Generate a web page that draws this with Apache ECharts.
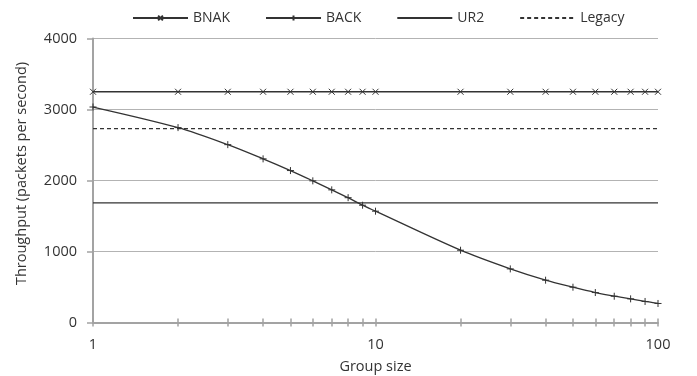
<!DOCTYPE html>
<html>
<head>
<meta charset="utf-8">
<script src="https://cdn.jsdelivr.net/npm/echarts@6/dist/echarts.min.js"></script>
<style>
  html, body { margin: 0; padding: 0; background: #fff; }
  #chart { width: 697px; height: 376px; }
</style>
</head>
<body>
<div id="chart"></div>
<script>
// Group sizes at which throughput was measured
const groupSizes = [1, 2, 3, 4, 5, 6, 7, 8, 9, 10, 20, 30, 40, 50, 60, 70, 80, 90, 100];
// Throughput (packets per second) per protocol
const bnakValues = [3250, 3250, 3250, 3250, 3250, 3250, 3250, 3250, 3250, 3250,
                    3250, 3250, 3250, 3250, 3250, 3250, 3250, 3250, 3250];
const backValues = [3035, 2745, 2505, 2305, 2140, 1995, 1868, 1758, 1652, 1568,
                    1018, 755, 596, 497, 422, 370, 333, 296, 268];
const ur2Value = 1685;
const legacyValue = 2730;
const xRange = [1, 100];
const yTicks = [0, 1000, 2000, 3000, 4000];

const ink = '#333';
const axisGray = '#a3a3a3';
const font = 'Open Sans';

const crossSymbol = 'path://M0,0L10,10M10,0L0,10';
const plusSymbol = 'path://M5,0L5,10M0,5L10,5';

const pairs = (vals) => groupSizes.map((g, i) => [g, vals[i]]);
const flat = (v) => xRange.map((x) => [x, v]);

const chart = echarts.init(document.getElementById('chart'), null, { renderer: 'canvas' });

const baseX = {
  type: 'log',
  logBase: 10,
  min: xRange[0],
  max: xRange[1],
  gridIndex: 0,
  position: 'bottom',
  splitLine: { show: false }
};

chart.setOption({
  animation: false,
  textStyle: { fontFamily: font },
  grid: { left: 93, right: 39, top: 38.5, bottom: 53.5, outerBoundsMode: 'none', containLabel: false },
  legend: {
    left: 127,
    top: 6,
    itemWidth: 55,
    itemHeight: 6,
    itemGap: 35,
    textStyle: { fontFamily: font, fontSize: 14, color: ink },
    data: [
      { name: 'BNAK' },
      { name: 'BACK' },
      { name: 'UR2', itemStyle: { opacity: 0 } },
      { name: 'Legacy', itemStyle: { opacity: 0 } }
    ]
  },
  xAxis: [
    Object.assign({}, baseX, {
      name: 'Group size',
      nameLocation: 'middle',
      nameGap: 37,
      nameTextStyle: { fontFamily: font, fontSize: 14.5, color: ink },
      axisLine: { show: true, lineStyle: { color: axisGray, width: 2 } },
      axisTick: { show: true, length: 4, inside: false, customValues: groupSizes, lineStyle: { color: axisGray, width: 1.5 } },
      axisLabel: { fontFamily: font, fontSize: 14.5, color: ink, margin: 15 }
    }),
    Object.assign({}, baseX, {
      axisLine: { show: false },
      axisTick: { show: true, length: 4, inside: true, customValues: groupSizes, lineStyle: { color: axisGray, width: 1.5 } },
      axisLabel: { show: false }
    })
  ],
  yAxis: {
    type: 'value',
    min: yTicks[0],
    max: yTicks[yTicks.length - 1],
    interval: 1000,
    name: 'Throughput (packets per second)',
    nameLocation: 'middle',
    nameGap: 64,
    nameTextStyle: { fontFamily: font, fontSize: 14.5, color: ink, padding: [0, 0, 0, 14] },
    axisLine: { show: true, lineStyle: { color: axisGray, width: 2 } },
    axisTick: { show: true, length: 6, lineStyle: { color: axisGray, width: 1.5 } },
    axisLabel: { fontFamily: font, fontSize: 14.5, color: ink, margin: 16, formatter: (v) => String(v) },
    splitLine: { show: true, lineStyle: { color: '#b3b3b3', width: 1 } }
  },
  series: [
    {
      name: 'BNAK',
      type: 'line',
      data: pairs(bnakValues),
      symbol: crossSymbol,
      symbolSize: 6,
      showAllSymbol: true,
      lineStyle: { color: ink, width: 1.3 },
      itemStyle: { color: ink, borderColor: ink, borderWidth: 1 },
      z: 5
    },
    {
      name: 'BACK',
      type: 'line',
      data: pairs(backValues),
      smooth: 0.3,
      symbol: plusSymbol,
      symbolSize: 7,
      showAllSymbol: true,
      lineStyle: { color: ink, width: 1.3 },
      itemStyle: { color: ink, borderColor: ink, borderWidth: 1 },
      z: 5
    },
    {
      name: 'UR2',
      type: 'line',
      data: flat(ur2Value),
      symbol: 'none',
      lineStyle: { color: ink, width: 1.3 },
      itemStyle: { color: ink },
      z: 4
    },
    {
      name: 'Legacy',
      type: 'line',
      data: flat(legacyValue),
      symbol: 'none',
      lineStyle: { color: ink, width: 1.3, type: [4, 3] },
      itemStyle: { color: ink },
      z: 4
    }
  ]
});
</script>
</body>
</html>
